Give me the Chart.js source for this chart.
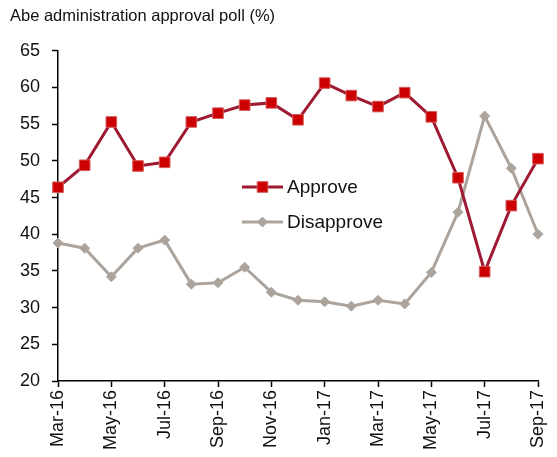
<!DOCTYPE html>
<html>
<head>
<meta charset="utf-8">
<script src="https://cdn.jsdelivr.net/npm/chart.js@4.4.1/dist/chart.umd.min.js"></script>
<style>
  html, body { margin: 0; padding: 0; background: #fff; }
  #wrap { position: relative; width: 557px; height: 457px; }
</style>
</head>
<body>
<div id="wrap"><canvas id="chartMain" width="557" height="457"></canvas></div>
<script>
// ===== DATA =====
const months = ['Mar-16','Apr-16','May-16','Jun-16','Jul-16','Aug-16','Sep-16','Oct-16','Nov-16','Dec-16',
                'Jan-17','Feb-17','Mar-17','Apr-17','May-17','Jun-17','Jul-17','Aug-17','Sep-17'];
const approve    = [46.4, 49.4, 55.3, 49.3, 49.8, 55.3, 56.5, 57.6, 57.9, 55.6,
                    60.6, 58.9, 57.4, 59.3, 56.0, 47.7, 34.9, 43.9, 50.3];
const disapprove = [38.8, 38.1, 34.2, 38.1, 39.2, 33.2, 33.4, 35.5, 32.1, 31.0,
                    30.8, 30.2, 31.0, 30.5, 34.8, 43.0, 56.1, 49.0, 40.0];

const FONT = "'Liberation Sans', Arial, sans-serif";

// ===== LEGEND DI DALAM AREA CHART =====
const innerLegend = {
  id: 'innerLegend',
  afterDraw(chart) {
    const ctx = chart.ctx;
    const items = [
      { text: 'Approve',    ds: chart.data.datasets[0], y: 187 },
      { text: 'Disapprove', ds: chart.data.datasets[1], y: 222 },
    ];
    ctx.save();
    items.forEach(it => {
      const x0 = 242, x1 = 283;
      ctx.strokeStyle = it.ds.borderColor;
      ctx.lineWidth = it.ds.borderWidth;
      ctx.beginPath();
      ctx.moveTo(x0, it.y);
      ctx.lineTo(x1, it.y);
      ctx.stroke();
      ctx.fillStyle = it.ds.pointBackgroundColor;
      ctx.strokeStyle = it.ds.pointBorderColor;
      ctx.lineWidth = 1;
      Chart.helpers.drawPoint(ctx, { pointStyle: it.ds.pointStyle, radius: it.ds.pointRadius, borderWidth: 1 }, (x0 + x1) / 2, it.y);
      ctx.fillStyle = '#111';
      ctx.font = '19px ' + FONT;
      ctx.textBaseline = 'middle';
      ctx.fillText(it.text, x1 + 4, it.y + 1);
    });
    ctx.restore();
  }
};

const ctxMain = document.getElementById('chartMain').getContext('2d');

const mainChart = new Chart(ctxMain, {
  type: 'line',
  data: {
    labels: months,
    datasets: [
      {
        label: 'Approve',
        data: approve,
        borderColor: '#9e1a32',
        borderWidth: 3,
        pointStyle: 'rect',
        pointRadius: 7.5,
        pointBackgroundColor: '#cc0000',
        pointBorderColor: '#d85a5a',
        pointBorderWidth: 1,
        tension: 0,
        clip: false,
      },
      {
        label: 'Disapprove',
        data: disapprove,
        borderColor: '#aca49c',
        borderWidth: 3,
        pointStyle: 'rectRot',
        pointRadius: 5,
        pointBackgroundColor: '#aca49c',
        pointBorderColor: '#aca49c',
        pointBorderWidth: 1,
        tension: 0,
        clip: false,
      },
    ],
  },
  options: {
    responsive: false,
    animation: false,
    layout: { padding: { left: 10, right: 19, top: 0, bottom: 0 } },
    plugins: {
      legend: { display: false },
      tooltip: { enabled: false },
      title: {
        display: true,
        text: 'Abe administration approval poll (%)',
        align: 'start',
        color: '#111',
        font: { family: FONT, size: 16.5, weight: 'normal' },
        padding: { top: 7, bottom: 24 },
      },
    },
    scales: {
      x: {
        offset: false,
        afterFit: s => { s.height = 76; s.paddingLeft = 0; s.paddingRight = 0; },
        border: { display: true, color: '#000', width: 1.5 },
        grid: {
          drawOnChartArea: false,
          drawTicks: true,
          tickLength: 6,
          tickWidth: 1.5,
          tickColor: c => (c.index % 2 === 0 ? '#000' : 'rgba(0,0,0,0)'),
        },
        ticks: {
          autoSkip: false,
          minRotation: 90,
          maxRotation: 90,
          padding: 3,
          color: '#111',
          font: { family: FONT, size: 18 },
          callback: function(v, i) { return i % 2 === 0 ? this.getLabelForValue(v) : ''; },
        },
      },
      y: {
        min: 20,
        max: 65,
        afterFit: s => { s.width = 48; },
        border: { display: true, color: '#000', width: 1.5 },
        grid: {
          drawOnChartArea: false,
          drawTicks: true,
          tickLength: 6,
          tickWidth: 1.5,
          tickColor: '#000',
        },
        ticks: {
          stepSize: 5,
          padding: 12,
          color: '#111',
          font: { family: FONT, size: 18 },
        },
      },
    },
  },
  plugins: [innerLegend],
});
</script>
</body>
</html>
